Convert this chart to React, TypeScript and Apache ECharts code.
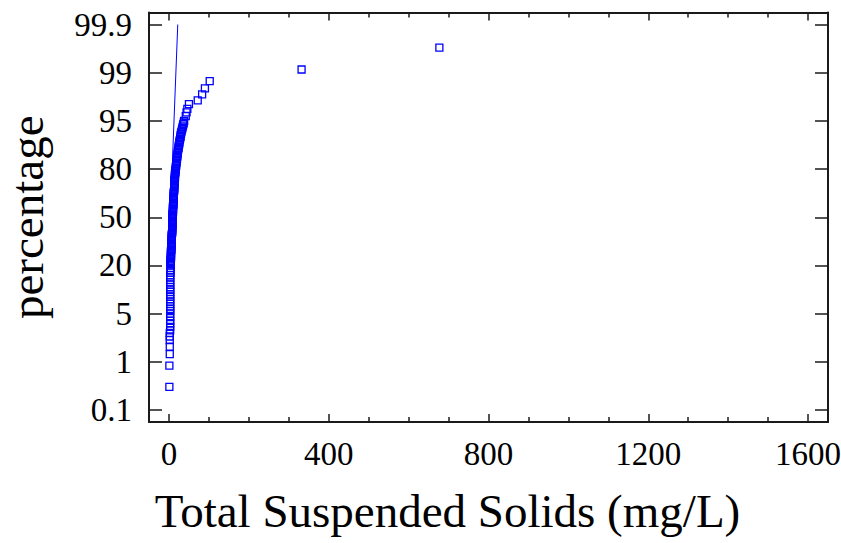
import React, { useEffect, useRef } from "react";
import * as echarts from "echarts";

// Probability-axis tick positions (evenly spaced on the chart) and their labels
const yTickPercents = [0.1, 1, 5, 20, 50, 80, 95, 99, 99.9];
const yTickLabels = ["0.1", "1", "5", "20", "50", "80", "95", "99", "99.9"];

const xMajorTicks = [0, 400, 800, 1200, 1600];
const xMinorTicks = [100, 200, 300, 500, 600, 700, 900, 1000, 1100, 1300, 1400, 1500];

// Observed Total Suspended Solids (mg/L), sorted, with their cumulative percentage
const tssValues = [
  // lower tail
  1, 1, 2, 2, 2, 2, 2, 3, 3, 3, 3, 3,
  // 5 - 20 %
  3, 3, 3, 3, 3, 3, 3, 3, 3, 3, 3, 3, 3, 3, 3, 3, 3, 4, 4, 4,
  // 20 - 50 %
  4, 4, 4, 4, 4, 4, 5, 5, 5, 5, 5, 5, 5, 6, 6, 6, 6, 6, 6, 6,
  7, 7, 7, 7, 7, 7, 7, 8, 8, 8, 8, 8, 8, 8, 9, 9, 9, 9, 9, 9,
  // 50 - 80 %
  9, 9, 9, 9, 10, 10, 10, 10, 10, 10, 11, 11, 11, 11, 11, 11, 12, 12, 12, 12,
  12, 12, 13, 13, 13, 13, 13, 13, 14, 14, 14, 14, 14, 15, 15, 15, 15, 16, 16, 16,
  // 80 - 95 %
  17, 17, 18, 18, 19, 19, 20, 20, 21, 21, 22, 22, 23, 24, 24, 25, 26, 26, 27, 28,
  29, 29, 30, 31, 32, 33, 34, 35, 36, 37,
  // upper tail
  38, 42, 44, 46, 50, 72, 83, 90, 102, 332, 677,
];

const percentValues = [
  0.53, 0.93, 1.64, 2.26, 2.8, 3.1, 3.4, 3.6, 3.9, 4.2, 4.4, 4.7,
  5, 5.75, 6.5, 7.25, 8, 8.75, 9.5, 10.25, 11, 11.75, 12.5, 13.25, 14, 14.75, 15.5, 16.25, 17, 17.75, 18.5, 19.25,
  20, 20.75, 21.5, 22.25, 23, 23.75, 24.5, 25.25, 26, 26.75, 27.5, 28.25, 29, 29.75, 30.5, 31.25, 32, 32.75, 33.5, 34.25,
  35, 35.75, 36.5, 37.25, 38, 38.75, 39.5, 40.25, 41, 41.75, 42.5, 43.25, 44, 44.75, 45.5, 46.25, 47, 47.75, 48.5, 49.25,
  50, 50.75, 51.5, 52.25, 53, 53.75, 54.5, 55.25, 56, 56.75, 57.5, 58.25, 59, 59.75, 60.5, 61.25, 62, 62.75, 63.5, 64.25,
  65, 65.75, 66.5, 67.25, 68, 68.75, 69.5, 70.25, 71, 71.75, 72.5, 73.25, 74, 74.75, 75.5, 76.25, 77, 77.75, 78.5, 79.25,
  80, 80.5, 81, 81.5, 82, 82.5, 83, 83.5, 84, 84.5, 85, 85.5, 86, 86.5, 87, 87.5, 88, 88.5, 89, 89.5,
  90, 90.5, 91, 91.5, 92, 92.5, 93, 93.5, 94, 94.5,
  95, 95.4, 95.7, 96.0, 96.4, 96.7, 97.2, 97.7, 98.3, 99.06, 99.47,
];

// Fitted reference line
const fitLineTss = [-1.5, 22];
const fitLinePercent = [20, 99.9];

const FONT = "'Liberation Serif', 'Times New Roman', serif";

// map a percentage onto the evenly spaced probability axis
function toAxis(p: number): number {
  const t = yTickPercents;
  if (p <= t[0]) return 0;
  for (let i = 0; i < t.length - 1; i++) {
    if (p <= t[i + 1]) return i + (p - t[i]) / (t[i + 1] - t[i]);
  }
  return t.length - 1;
}

export default function App() {
  const ref = useRef<HTMLDivElement>(null);

  useEffect(() => {
    if (!ref.current) return;
    const chart = echarts.init(ref.current, undefined, { renderer: "svg" });
    const yIdx = yTickPercents.map((_, i) => i);
    const frame = { show: true, onZero: false, lineStyle: { color: "#1a1a1a", width: 2 } };
    const noLine = { show: false, onZero: false };
    const tickStyle = { color: "#1a1a1a", width: 1.5 };
    const xBase = { type: "value", min: -50, max: 1650, splitLine: { show: false } };
    const yBase = { type: "value", min: -0.25, max: 8.25, splitLine: { show: false } };

    chart.setOption({
      animation: false,
      backgroundColor: "#ffffff",
      grid: { left: 149, right: 13, top: 12.5, bottom: 121, containLabel: false, outerBoundsMode: "none" },
      xAxis: [
        {
          ...xBase,
          position: "bottom",
          axisLine: frame,
          axisTick: { show: true, inside: true, length: 8, customValues: xMajorTicks, lineStyle: tickStyle },
          axisLabel: {
            customValues: xMajorTicks,
            margin: 15,
            fontSize: 33,
            color: "#000",
            fontFamily: FONT,
            formatter: (v: number) => String(v),
          },
          name: "Total Suspended Solids (mg/L)",
          nameLocation: "middle",
          nameGap: 65,
          nameTextStyle: { fontSize: 47, color: "#000", fontFamily: FONT, padding: [0, 82, 0, 0] },
        },
        {
          ...xBase,
          position: "bottom",
          axisLine: noLine,
          axisTick: { show: true, inside: true, length: 5, customValues: xMinorTicks, lineStyle: tickStyle },
          axisLabel: { show: false },
        },
        {
          ...xBase,
          position: "top",
          axisLine: frame,
          axisTick: { show: true, inside: true, length: 8, customValues: xMajorTicks, lineStyle: tickStyle },
          axisLabel: { show: false },
        },
        {
          ...xBase,
          position: "top",
          axisLine: noLine,
          axisTick: { show: true, inside: true, length: 5, customValues: xMinorTicks, lineStyle: tickStyle },
          axisLabel: { show: false },
        },
      ],
      yAxis: [
        {
          ...yBase,
          position: "left",
          axisLine: frame,
          axisTick: { show: true, inside: true, length: 13, customValues: yIdx, lineStyle: tickStyle },
          axisLabel: {
            customValues: yIdx,
            margin: 17,
            fontSize: 33,
            color: "#000",
            fontFamily: FONT,
            formatter: (v: number) => yTickLabels[Math.round(v)] ?? "",
          },
          name: "percentage",
          nameLocation: "middle",
          nameGap: 99,
          nameTextStyle: { fontSize: 47, color: "#000", fontFamily: FONT, lineHeight: 47 },
        },
        {
          ...yBase,
          position: "right",
          axisLine: frame,
          axisTick: { show: true, inside: true, length: 13, customValues: yIdx, lineStyle: tickStyle },
          axisLabel: { show: false },
        },
      ],
      series: [
        {
          type: "line",
          xAxisIndex: 0,
          yAxisIndex: 0,
          data: fitLineTss.map((x, i) => [x, toAxis(fitLinePercent[i])]),
          showSymbol: false,
          symbol: "none",
          lineStyle: { color: "#0000ff", width: 1 },
          silent: true,
        },
        {
          type: "scatter",
          xAxisIndex: 0,
          yAxisIndex: 0,
          data: tssValues.map((x, i) => [x, toAxis(percentValues[i])]),
          symbol: "rect",
          symbolSize: 7,
          itemStyle: { color: "rgba(0,0,0,0)", borderColor: "#0000ff", borderWidth: 1.3, opacity: 1 },
        },
      ],
    });
    return () => chart.dispose();
  }, []);

  return (
    <div
      ref={ref}
      style={{ position: "absolute", left: 0, top: 0, width: 841, height: 543, background: "#fff" }}
    />
  );
}
